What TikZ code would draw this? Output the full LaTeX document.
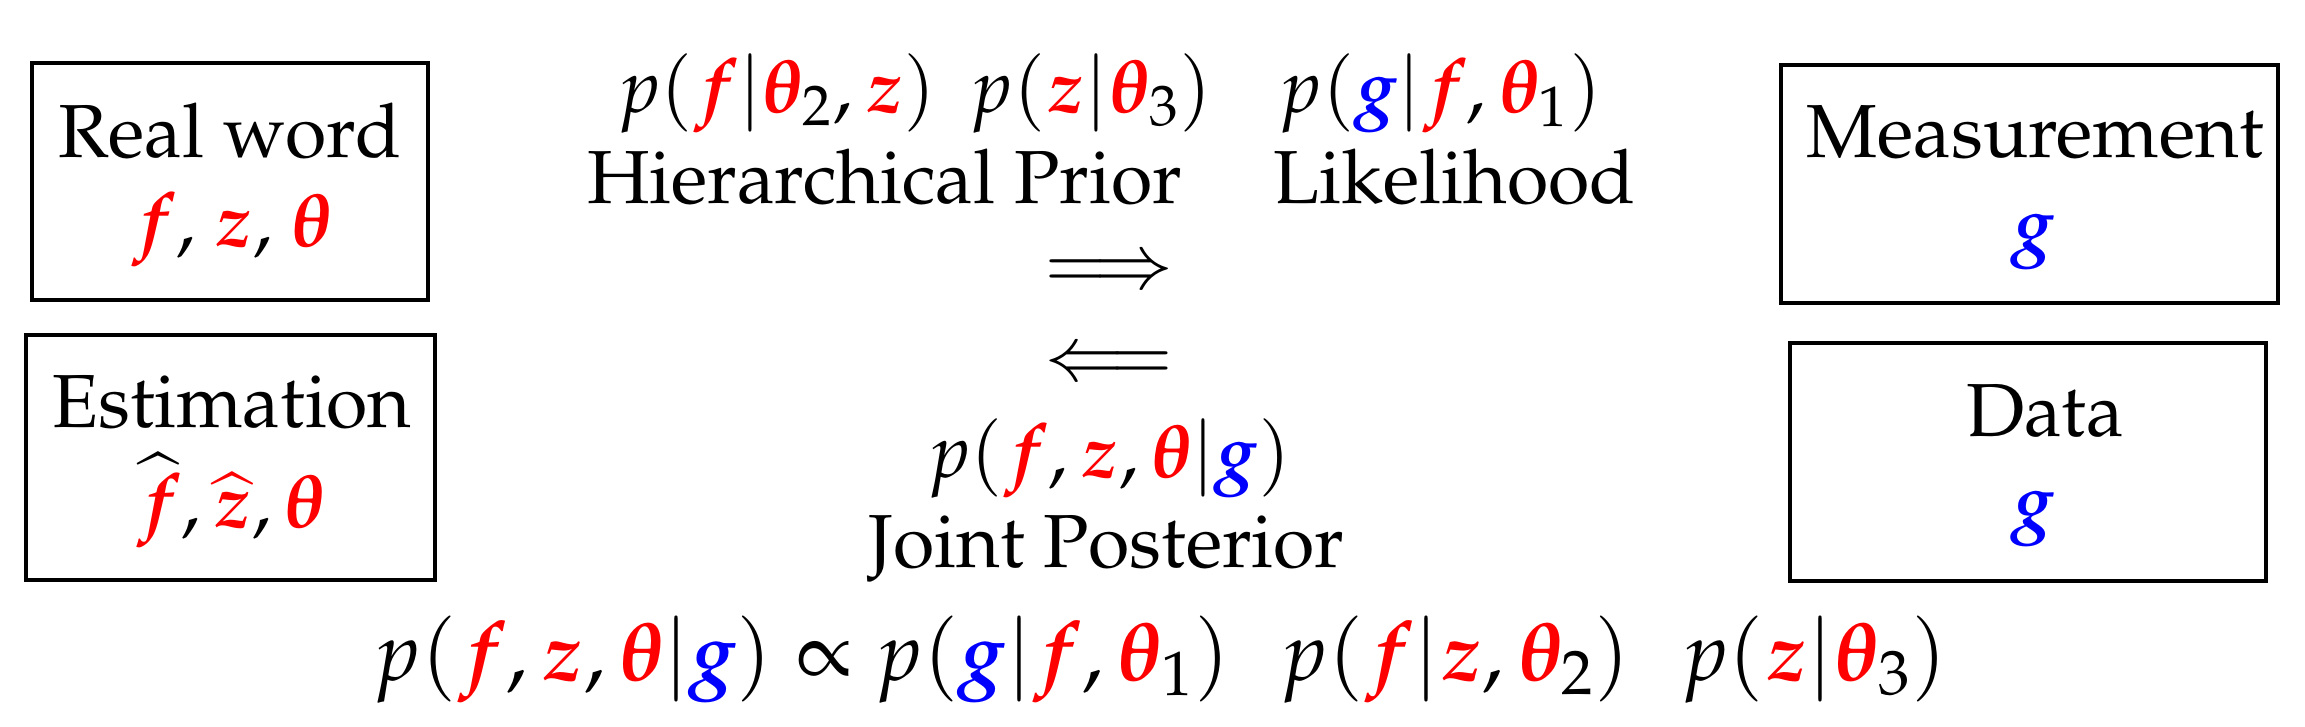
\documentclass[tikz,border=0pt]{standalone}
\usepackage[T1]{fontenc}
\usepackage{amsmath}
\usepackage{mathpazo}
\newcommand{\Rf}{{\color{red}\boldsymbol{f}}}
\newcommand{\Rz}{{\color{red}\boldsymbol{z}}}
\newcommand{\Rt}{{\color{red}\boldsymbol{\theta}}}
\newcommand{\Bg}{{\color{blue}\boldsymbol{g}}}
\tikzset{
  txt/.style={inner sep=0pt, outer sep=0pt, font=\fontsize{21.4}{25}\selectfont},
  bigtxt/.style={inner sep=0pt, outer sep=0pt, font=\fontsize{23.5}{28}\selectfont},
  box/.style={draw=black, line width=0.95pt, inner sep=0pt},
}
\begin{document}
\begin{tikzpicture}
\useasboundingbox (0,0) rectangle (23.05,-7.27);
% boxes
\node[box, minimum width=3.96cm, minimum height=2.37cm] (real) at (2.30,-1.815) {};
\node[box, minimum width=4.09cm, minimum height=2.45cm] (est) at (2.305,-4.575) {};
\node[box, minimum width=4.97cm, minimum height=2.38cm] (meas) at (20.295,-1.84) {};
\node[box, minimum width=4.76cm, minimum height=2.38cm] (data) at (20.28,-4.62) {};
% box texts
\node[txt, anchor=base] (realA) at (2.30,-1.57) {Real word};
\node[txt, anchor=base] (realB) at (2.31,-2.46) {$\Rf$, $\Rz$, $\Rt$};
\node[txt, anchor=base] (estA) at (2.32,-4.27) {Estimation};
\node[txt, anchor=base] (estB) at (2.30,-5.27) {$\widehat{\Rf},{\color{red}\widehat{\boldsymbol{z}}},\Rt$};
\node[txt, anchor=base] (measA) at (20.35,-1.57) {Measurement};
\node[txt, anchor=base] (measB) at (20.34,-2.49) {$\Bg$};
\node[txt, anchor=base] (dataA) at (20.45,-4.36) {Data};
\node[txt, anchor=base] (dataB) at (20.34,-5.26) {$\Bg$};
% top
\node[txt, anchor=base] (prior) at (9.145,-1.12) {$p(\Rf|\Rt_2,\Rz)\mkern8mu p(\Rz|\Rt_3)$};
\node[txt, anchor=base] (lik) at (14.40,-1.12) {$p(\Bg|\Rf,\Rt_1)$};
\node[txt, anchor=base] (hp) at (8.845,-2.03) {Hierarchical Prior};
\node[txt, anchor=base] (lh) at (14.545,-2.03) {Likelihood};
% arrows
\node[txt] (ra) at (11.09,-2.74) {$\Longrightarrow$};
\node[txt] (la) at (11.09,-3.66) {$\Longleftarrow$};
% posterior
\node[txt, anchor=base] (jp) at (11.09,-4.77) {$p(\Rf,\Rz,\Rt|\Bg)$};
\node[txt, anchor=base] (jpl) at (11.065,-5.67) {Joint Posterior};
\node[bigtxt, anchor=base] (bayes) at (11.60,-6.80) {$p(\Rf,\Rz,\Rt|\Bg)\propto p(\Bg|\Rf,\Rt_1)\mkern11mu p(\Rf|\Rz,\Rt_2)\mkern11mu p(\Rz|\Rt_3)$};
\end{tikzpicture}
\end{document}
